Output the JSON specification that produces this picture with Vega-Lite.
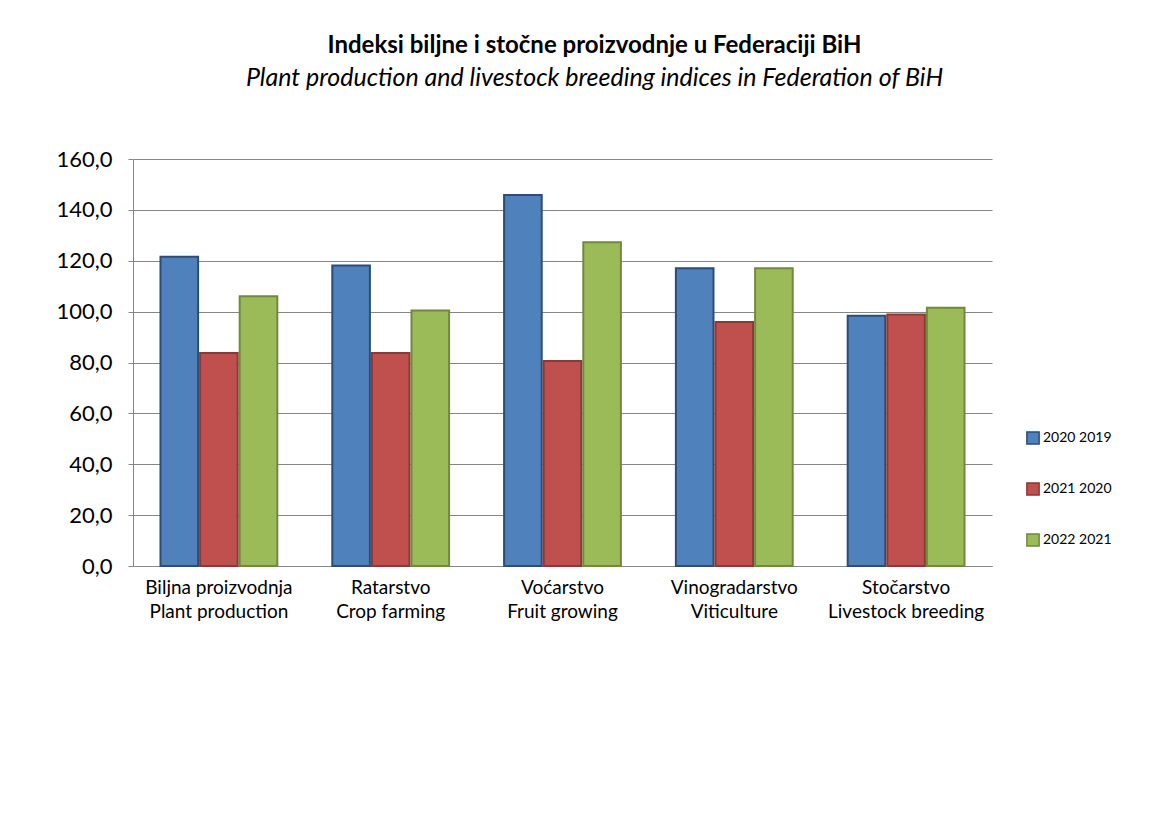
{
  "$schema": "https://vega.github.io/schema/vega-lite/v6.json",
  "width": 859,
  "height": 407,
  "autosize": "none",
  "padding": {"left": 133, "top": 159, "right": 172, "bottom": 257},
  "background": "white",
  "title": {
    "text": "Indeksi biljne i stočne proizvodnje u Federaciji BiH",
    "subtitle": "Plant production and livestock breeding indices in Federation of BiH",
    "anchor": "middle",
    "frame": "group",
    "dx": 32,
    "offset": 57,
    "font": "Lato",
    "fontSize": 24,
    "fontWeight": "bold",
    "color": "#000000",
    "subtitleFont": "Lato",
    "subtitleFontSize": 25,
    "subtitleFontStyle": "italic",
    "subtitleColor": "#000000",
    "subtitlePadding": 8
  },
  "data": {
    "values": [
      {"cat": "Biljna proizvodnja|Plant production", "series": "2020 2019", "value": 121.6},
      {"cat": "Biljna proizvodnja|Plant production", "series": "2021 2020", "value": 83.7},
      {"cat": "Biljna proizvodnja|Plant production", "series": "2022 2021", "value": 106.0},
      {"cat": "Ratarstvo|Crop farming", "series": "2020 2019", "value": 118.1},
      {"cat": "Ratarstvo|Crop farming", "series": "2021 2020", "value": 83.7},
      {"cat": "Ratarstvo|Crop farming", "series": "2022 2021", "value": 100.4},
      {"cat": "Voćarstvo|Fruit growing", "series": "2020 2019", "value": 145.8},
      {"cat": "Voćarstvo|Fruit growing", "series": "2021 2020", "value": 80.6},
      {"cat": "Voćarstvo|Fruit growing", "series": "2022 2021", "value": 127.3},
      {"cat": "Vinogradarstvo|Viticulture", "series": "2020 2019", "value": 117.1},
      {"cat": "Vinogradarstvo|Viticulture", "series": "2021 2020", "value": 95.9},
      {"cat": "Vinogradarstvo|Viticulture", "series": "2022 2021", "value": 117.1},
      {"cat": "Stočarstvo|Livestock breeding", "series": "2020 2019", "value": 98.4},
      {"cat": "Stočarstvo|Livestock breeding", "series": "2021 2020", "value": 98.9},
      {"cat": "Stočarstvo|Livestock breeding", "series": "2022 2021", "value": 101.5}
    ]
  },
  "mark": {"type": "bar", "strokeWidth": 2},
  "encoding": {
    "x": {
      "field": "cat",
      "type": "nominal",
      "sort": null,
      "title": null,
      "scale": {"paddingInner": 0.32, "paddingOuter": 0.16},
      "axis": {
        "labelExpr": "split(datum.label, '|')",
        "labelAngle": 0,
        "labelFont": "Lato",
        "labelFontSize": 19,
        "labelColor": "#000000",
        "labelLineHeight": 24,
        "labelPadding": 12,
        "ticks": false,
        "domainColor": "#868686",
        "domainWidth": 1
      }
    },
    "xOffset": {
      "field": "series",
      "type": "nominal",
      "scale": {"paddingInner": 0.05}
    },
    "y": {
      "field": "value",
      "type": "quantitative",
      "title": null,
      "scale": {"domain": [0, 160]},
      "axis": {
        "values": [0, 20, 40, 60, 80, 100, 120, 140, 160],
        "labelExpr": "replace(format(datum.value, '.1f'), '.', ',')",
        "labelFont": "Lato",
        "labelFontSize": 22,
        "labelColor": "#000000",
        "labelPadding": 16,
        "tickSize": 5,
        "tickColor": "#868686",
        "domainColor": "#868686",
        "gridColor": "#868686",
        "gridWidth": 1
      }
    },
    "color": {
      "field": "series",
      "type": "nominal",
      "title": null,
      "scale": {"range": ["#4F81BD", "#C0504D", "#9BBB59"]},
      "legend": {
        "orient": "none",
        "legendX": 893,
        "legendY": 272,
        "symbolType": "square",
        "symbolSize": 150,
        "symbolStrokeWidth": 1.5,
        "labelFont": "Lato",
        "labelFontSize": 14,
        "labelColor": "#000000",
        "labelOffset": 3,
        "rowPadding": 31
      }
    },
    "stroke": {
      "field": "series",
      "type": "nominal",
      "scale": {"range": ["#2C4D75", "#8C3836", "#71893F"]},
      "legend": null
    }
  },
  "config": {
    "view": {"stroke": null}
  }
}
